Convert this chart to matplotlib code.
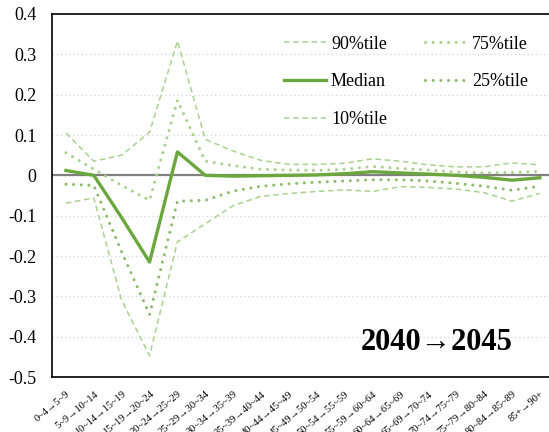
import matplotlib.pyplot as plt
import numpy as np

plt.rcParams['font.family'] = ['Liberation Serif', 'DejaVu Serif']

ages = ["0~4", "5~9", "10~14", "15~19", "20~24", "25~29", "30~34", "35~39", "40~44",
        "45~49", "50~54", "55~59", "60~64", "65~69", "70~74", "75~79", "80~84"]
next_ages = ages[1:] + ["85~89"]
labels = [a + "→" + b for a, b in zip(ages, next_ages)] + ["85+→90+"]

p90 = [0.105, 0.035, 0.05, 0.107, 0.333, 0.089, 0.06, 0.037, 0.027, 0.027,
       0.03, 0.041, 0.035, 0.026, 0.021, 0.021, 0.031, 0.026]
p75 = [0.056, 0.015, -0.025, -0.062, 0.186, 0.035, 0.024, 0.015, 0.013, 0.012,
       0.015, 0.022, 0.017, 0.013, 0.008, 0.006, 0.007, 0.01]
median = [0.012, 0.0, -0.105, -0.215, 0.058, 0.0, -0.002, -0.001, 0.0, 0.001,
          0.004, 0.009, 0.006, 0.003, 0.0, -0.005, -0.012, -0.006]
p25 = [-0.022, -0.025, -0.19, -0.345, -0.064, -0.062, -0.039, -0.027, -0.021, -0.017,
       -0.014, -0.011, -0.011, -0.014, -0.02, -0.027, -0.037, -0.027]
p10 = [-0.069, -0.056, -0.31, -0.447, -0.165, -0.12, -0.075, -0.052, -0.045, -0.04,
       -0.036, -0.04, -0.028, -0.03, -0.034, -0.043, -0.064, -0.045]

light = "#A9D18E"
mid = "#8CBB6C"
dark = "#6AA83E"

fig = plt.figure(figsize=(5.49, 4.32), dpi=100)
ax = fig.add_axes([0.0947, 0.1273, 0.914, 0.8403])

x = np.arange(len(labels))
ax.axhline(0, color="#808080", lw=1.6, zorder=1)

dots = (0, (0.01, 2.5))
dashes = (0, (3.6, 2.4))
l90, = ax.plot(x, p90, color=light, lw=1.1, linestyle=dashes, label="90%tile", zorder=2)
l75, = ax.plot(x, p75, color=light, lw=2.2, linestyle=dots, dash_capstyle="round",
               label="75%tile", zorder=2)
lmed, = ax.plot(x, median, color=dark, lw=2.4, label="Median", zorder=3)
l25, = ax.plot(x, p25, color=mid, lw=2.2, linestyle=dots, dash_capstyle="round",
               label="25%tile", zorder=2)
l10, = ax.plot(x, p10, color=light, lw=1.1, linestyle=dashes, label="10%tile", zorder=2)

ax.set_xlim(-0.5, len(labels) - 0.5)
ax.set_ylim(-0.5, 0.4)
ax.set_yticks(np.arange(-0.5, 0.41, 0.1))
ax.set_yticklabels(["-0.5", "-0.4", "-0.3", "-0.2", "-0.1", "0", "0.1", "0.2", "0.3", "0.4"],
                   fontsize=13)
ax.set_xticks(x)
ax.set_xticklabels(labels, fontsize=7.5, rotation=40, ha="right", va="top",
                   rotation_mode="anchor")
ax.tick_params(axis="y", length=0, pad=11)
ax.tick_params(axis="x", length=0, pad=9)

ax.grid(axis="y", color="#D9D9D9", linestyle=(0, (1, 2)), lw=1)
ax.set_axisbelow(True)
for side in ["left", "top", "bottom"]:
    ax.spines[side].set_color("black")
    ax.spines[side].set_linewidth(1.2)
ax.spines["right"].set_visible(False)

ax.legend(handles=[l90, lmed, l10, l75, l25], ncol=2, frameon=False, fontsize=13,
          loc="upper left", bbox_to_anchor=(0.43, 0.985), handlelength=2.3,
          handletextpad=0.3, labelspacing=1.15, columnspacing=2.1)

fig.text(437 / 549, 1 - 343 / 432, "2040→2045", fontsize=22, fontweight="bold",
         ha="center", va="center")

fig.savefig("out.png", dpi=100)
